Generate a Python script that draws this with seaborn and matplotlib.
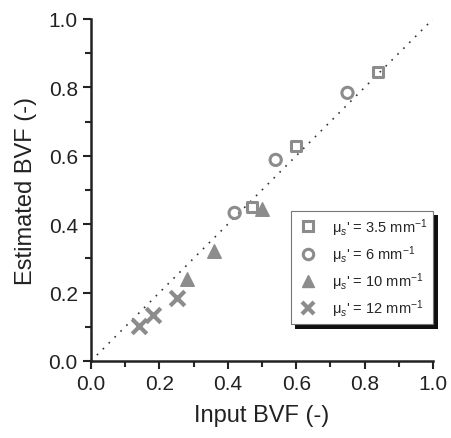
import matplotlib
matplotlib.use("Agg")
import matplotlib.pyplot as plt
import seaborn as sns
import pandas as pd
import numpy as np
from matplotlib.patches import Rectangle
from matplotlib.lines import Line2D
from matplotlib.ticker import MultipleLocator, FormatStrFormatter
from matplotlib.transforms import IdentityTransform

sns.set_theme(style="ticks")
plt.rcParams['font.family'] = ['Liberation Sans', 'DejaVu Sans']
plt.rcParams['mathtext.fontset'] = 'custom'
plt.rcParams['mathtext.rm'] = 'Liberation Sans'
plt.rcParams['mathtext.it'] = 'Liberation Sans:italic'

series_names = ["3.5", "6", "10", "12"]
input_35 = [0.47, 0.60, 0.84]
est_35 = [0.450, 0.629, 0.845]
input_6 = [0.42, 0.54, 0.75]
est_6 = [0.433, 0.588, 0.784]
input_10 = [0.28, 0.36, 0.50]
est_10 = [0.240, 0.322, 0.444]
input_12 = [0.14, 0.18, 0.25]
est_12 = [0.102, 0.135, 0.184]

rows = []
for name, xs, ys in zip(series_names, [input_35, input_6, input_10, input_12],
                        [est_35, est_6, est_10, est_12]):
    for x, y in zip(xs, ys):
        rows.append({"series": name, "x": x, "y": y})
df = pd.DataFrame(rows)

gray = "#8c8c8c"
fig = plt.figure(figsize=(4.51, 4.39), dpi=100)
ax = fig.add_axes([91/451, (439-362)/439, 342/451, 342/439])

ax.plot([0, 1], [0, 1], linestyle=(0, (1, 4)), color="#333333", lw=1.2, zorder=1)

styles = {
    "3.5": dict(marker="s", s=55, facecolor="none", edgecolor=gray, linewidth=2.2),
    "6": dict(marker="o", s=65, facecolor="none", edgecolor=gray, linewidth=2.2),
    "10": dict(marker="^", s=95, facecolor=gray, edgecolor=gray, linewidth=1.0),
    "12": dict(marker="x", s=110, color=gray, linewidth=3.0),
}
for name in series_names:
    sub = df[df.series == name]
    sns.scatterplot(data=sub, x="x", y="y", ax=ax, legend=False, zorder=3, **styles[name])

ax.set_xlim(0, 1)
ax.set_ylim(0, 1)
ax.xaxis.set_major_locator(MultipleLocator(0.2))
ax.yaxis.set_major_locator(MultipleLocator(0.2))
ax.xaxis.set_minor_locator(MultipleLocator(0.1))
ax.yaxis.set_minor_locator(MultipleLocator(0.1))
ax.xaxis.set_major_formatter(FormatStrFormatter("%.1f"))
ax.yaxis.set_major_formatter(FormatStrFormatter("%.1f"))
ax.tick_params(which="major", direction="out", length=6, width=1.5, labelsize=15, colors="#222222")
ax.tick_params(which="minor", direction="out", length=4, width=1.5)
for sp in ["top", "right"]:
    ax.spines[sp].set_visible(False)
for sp in ["left", "bottom"]:
    ax.spines[sp].set_linewidth(1.8)
    ax.spines[sp].set_color("#222222")
ax.set_xlabel("Input BVF (-)", fontsize=17, color="#222222", labelpad=8)
ax.set_ylabel("Estimated BVF (-)", fontsize=17, color="#222222", labelpad=8)

handles = [
    Line2D([], [], linestyle="none", marker="s", markersize=6.5, markerfacecolor="none", markeredgecolor=gray, markeredgewidth=2.2),
    Line2D([], [], linestyle="none", marker="o", markersize=7.5, markerfacecolor="none", markeredgecolor=gray, markeredgewidth=2.2),
    Line2D([], [], linestyle="none", marker="^", markersize=9, markerfacecolor=gray, markeredgecolor=gray),
    Line2D([], [], linestyle="none", marker="x", markersize=9, markeredgecolor=gray, markeredgewidth=3),
]
labels = ["μ$_s$' = %s mm$^{-1}$" % n for n in series_names]
leg = ax.legend(handles, labels, loc="lower right", bbox_to_anchor=(1.0, 0.108),
                frameon=True, fancybox=False, fontsize=10.5, borderpad=0.35,
                labelspacing=0.38, handletextpad=0.9, handlelength=1.6,
                borderaxespad=0.0, framealpha=1)
leg.get_frame().set_edgecolor("#777777")
leg.get_frame().set_linewidth(0.8)
leg.get_frame().set_facecolor("white")
leg.set_zorder(6)

fig.canvas.draw()
bb = leg.get_window_extent()
off = 4.5
shadow = Rectangle((bb.x0 + off, bb.y0 - off), bb.width, bb.height,
                   transform=IdentityTransform(), facecolor="#111111",
                   edgecolor="none", zorder=5, clip_on=False)
ax.add_artist(shadow)

fig.savefig("out.png", dpi=100)
